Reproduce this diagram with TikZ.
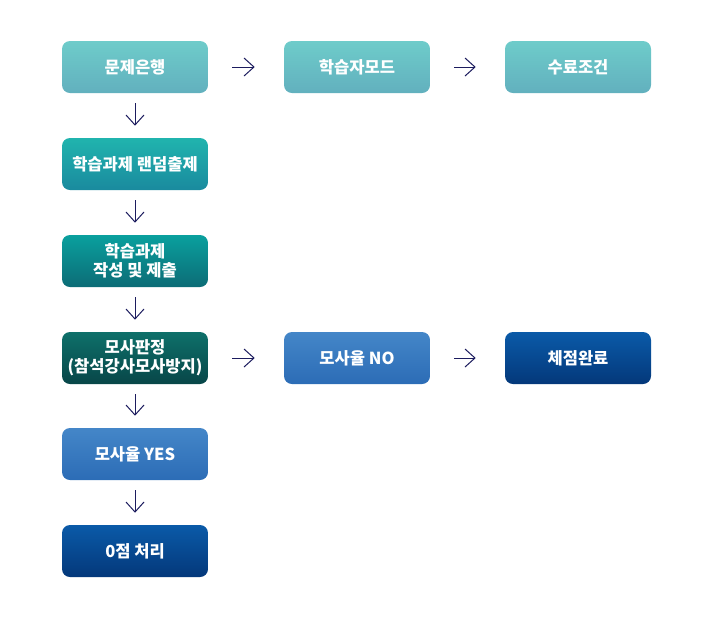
\documentclass[tikz,border=0pt]{standalone}
\usepackage{fontspec}
\setmainfont{Noto Sans CJK KR}
\usetikzlibrary{arrows.meta}
\definecolor{navy}{HTML}{1C1C5E}
\definecolor{tealA}{RGB}{110,204,202}
\definecolor{tealAb}{RGB}{98,176,190}
\definecolor{tealB}{RGB}{32,180,174}
\definecolor{tealBb}{RGB}{26,138,158}
\definecolor{tealC}{RGB}{10,160,158}
\definecolor{tealCb}{RGB}{12,108,118}
\definecolor{tealD}{RGB}{14,112,106}
\definecolor{tealDb}{RGB}{8,70,72}
\definecolor{blueA}{RGB}{68,134,200}
\definecolor{blueAb}{RGB}{44,108,182}
\definecolor{blueB}{RGB}{10,90,168}
\definecolor{blueBb}{RGB}{4,56,122}

\begin{document}
\begin{tikzpicture}[x=0.75pt,y=-0.75pt,
	stepbox/.style={rounded corners=6pt,minimum width=109.5pt,minimum height=39pt,
		align=center,text=white,font=\fontsize{12.4pt}{14.5pt}\selectfont\bfseries,inner sep=0pt},
	shadeA/.style={stepbox,top color=tealA,bottom color=tealAb},
	shadeB/.style={stepbox,top color=tealB,bottom color=tealBb},
	shadeC/.style={stepbox,top color=tealC,bottom color=tealCb},
	shadeD/.style={stepbox,top color=tealD,bottom color=tealDb},
	shadeE/.style={stepbox,top color=blueA,bottom color=blueAb},
	shadeF/.style={stepbox,top color=blueB,bottom color=blueBb},
	arr/.style={draw=navy,line width=0.75pt,-{Straight Barb[length=7.5pt,width=13.5pt]}},
	harr/.style={arr,shorten <=18pt,shorten >=21.75pt},
	varr/.style={arr,shorten <=7.5pt,shorten >=9pt}]
						\useasboundingbox (0,0) rectangle (712,619);
						\node[shadeA] (bank) at (135,67) {문제은행};
						\node[shadeA] (mode) at (357,67) {학습자모드};
						\node[shadeA] (cond) at (578,67) {수료조건};
						\node[shadeB] (rand) at (135,164) {학습과제 랜덤출제};
						\node[shadeC] (write) at (135,261) {학습과제\\작성 및 제출};
						\node[shadeD] (judge) at (135,358) {모사판정\\(참석강사모사방지)};
						\node[shadeE] (no) at (357,358) {모사율 NO};
						\node[shadeF] (done) at (578,358) {체점완료};
						\node[shadeE] (yes) at (135,454) {모사율 YES};
						\node[shadeF] (zero) at (135,551) {0점 처리};
						% arrows
						\draw[harr] (bank)--(mode);
						\draw[harr] (mode)--(cond);
						\draw[harr] (judge)--(no);
						\draw[harr] (no)--(done);
						\draw[varr] (bank)--(rand);
						\draw[varr] (rand)--(write);
						\draw[varr] (write)--(judge);
						\draw[varr] (judge)--(yes);
						\draw[varr] (yes)--(zero);
					\end{tikzpicture}
\end{document}
